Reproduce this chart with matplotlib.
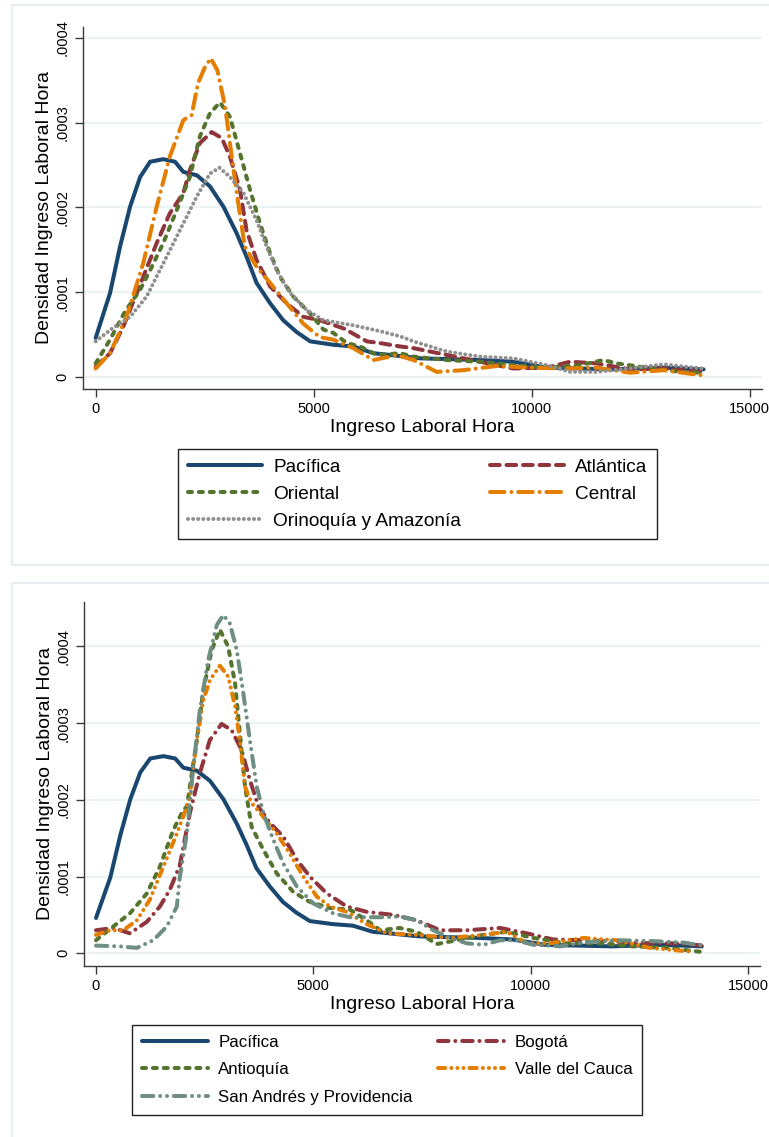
import matplotlib
matplotlib.use('Agg')
import matplotlib.pyplot as plt
from matplotlib.patches import Rectangle

plt.rcParams['font.family'] = ['Liberation Sans', 'DejaVu Sans']

ESCALA = 1e-4  # densidades guardadas en unidades de 0.0001

# ---------------- Panel superior ----------------
pacifica_x = [0, 330, 560, 790, 1020, 1250, 1550, 1820, 2010, 2320, 2620, 2930, 3230, 3460,
              3690, 4000, 4300, 4610, 4920, 5450, 5910, 6370, 6750, 7440, 8810, 9580, 10340,
              11110, 11870, 13020, 13940]
pacifica_y = [0.46, 0.99, 1.54, 2.01, 2.36, 2.54, 2.57, 2.54, 2.42, 2.38, 2.25, 2.01, 1.70, 1.42,
              1.11, 0.87, 0.67, 0.53, 0.42, 0.38, 0.36, 0.28, 0.26, 0.22, 0.20, 0.18, 0.11,
              0.10, 0.09, 0.11, 0.09]

atlantica_x = [0, 330, 630, 1090, 1400, 1700, 2010, 2160, 2390, 2660, 2890, 3080, 3310, 3460,
               3690, 4000, 4380, 4760, 5140, 5700, 6220, 6520, 6980, 7290, 8050, 8810, 9580,
               10340, 10880, 11490, 12250, 13020, 13900]
atlantica_y = [0.12, 0.28, 0.59, 1.18, 1.58, 1.93, 2.17, 2.44, 2.76, 2.89, 2.82, 2.60, 2.21, 1.73,
               1.38, 1.07, 0.87, 0.71, 0.67, 0.57, 0.42, 0.40, 0.36, 0.34, 0.26, 0.18, 0.10,
               0.11, 0.18, 0.16, 0.09, 0.10, 0.06]

oriental_x = [0, 330, 670, 1020, 1250, 1550, 1860, 2160, 2390, 2620, 2850, 3080, 3310, 3540,
              3770, 4000, 4230, 4530, 4920, 5220, 5450, 5760, 6060, 6450, 6980, 7290, 8050,
              8810, 9580, 10340, 11110, 11640, 11950, 12640, 13400, 13900]
oriental_y = [0.16, 0.44, 0.77, 1.03, 1.26, 1.58, 1.97, 2.36, 2.84, 3.11, 3.24, 3.07, 2.64, 2.21,
              1.81, 1.46, 1.18, 0.95, 0.75, 0.56, 0.52, 0.40, 0.36, 0.26, 0.28, 0.24, 0.20,
              0.18, 0.14, 0.11, 0.14, 0.20, 0.16, 0.11, 0.06, 0.05]

central_x = [0, 330, 710, 1090, 1400, 1700, 2010, 2200, 2350, 2510, 2640, 2790, 2970, 3120,
             3270, 3420, 3690, 4000, 4380, 4760, 5140, 5450, 5910, 6370, 6750, 6900, 7290,
             7820, 8430, 9200, 9960, 10730, 11490, 12250, 13020, 13900]
central_y = [0.10, 0.28, 0.71, 1.34, 2.01, 2.60, 3.03, 3.09, 3.47, 3.66, 3.76, 3.62, 3.19, 2.60,
             2.05, 1.54, 1.30, 1.11, 0.87, 0.63, 0.47, 0.44, 0.34, 0.20, 0.24, 0.26, 0.20,
             0.06, 0.08, 0.13, 0.11, 0.10, 0.11, 0.05, 0.08, 0.02]

orinoquia_x = [0, 400, 790, 1170, 1550, 1930, 2320, 2620, 2840, 3080, 3390, 3690, 3920, 4150,
               4460, 4840, 5220, 5450, 5910, 6520, 6980, 7290, 8050, 8810, 9580, 10340, 10880,
               11490, 12250, 13020, 13900]
orinoquia_y = [0.42, 0.58, 0.71, 0.95, 1.34, 1.73, 2.13, 2.40, 2.47, 2.36, 2.17, 1.85, 1.54, 1.26,
               0.99, 0.79, 0.67, 0.65, 0.61, 0.54, 0.48, 0.42, 0.30, 0.24, 0.22, 0.14, 0.06,
               0.06, 0.10, 0.15, 0.10]

# ---------------- Panel inferior ----------------
bogota_x = [0, 400, 780, 1170, 1470, 1700, 1930, 2160, 2390, 2620, 2890, 3120, 3350, 3540,
            3740, 4000, 4310, 4620, 4920, 5310, 5770, 6230, 6840, 7380, 7920, 8530, 9300,
            9910, 10520, 11210, 11980, 12750, 13360, 13970]
bogota_y = [0.30, 0.33, 0.26, 0.41, 0.61, 0.83, 1.15, 1.83, 2.35, 2.78, 2.99, 2.91, 2.65, 2.26,
            1.91, 1.70, 1.52, 1.22, 1.00, 0.78, 0.61, 0.54, 0.50, 0.43, 0.30, 0.30, 0.33,
            0.26, 0.18, 0.17, 0.15, 0.13, 0.13, 0.10]

antioquia_x = [0, 400, 780, 1170, 1470, 1780, 2010, 2090, 2320, 2470, 2660, 2850, 3040, 3200,
               3310, 3430, 3580, 3850, 4160, 4540, 4920, 5380, 5840, 6230, 6540, 6990, 7380,
               7840, 8300, 8910, 9450, 10060, 10830, 11600, 12360, 13130, 13900]
antioquia_y = [0.17, 0.35, 0.52, 0.78, 1.13, 1.61, 1.87, 1.91, 2.78, 3.43, 3.95, 4.22, 4.00, 3.52,
               2.87, 2.17, 1.65, 1.35, 1.04, 0.80, 0.67, 0.59, 0.57, 0.43, 0.30, 0.33, 0.28,
               0.12, 0.17, 0.24, 0.28, 0.20, 0.13, 0.13, 0.09, 0.07, 0.02]

valle_x = [0, 320, 630, 940, 1240, 1550, 1860, 2090, 2160, 2320, 2470, 2620, 2850, 3040, 3200,
           3310, 3430, 3580, 3850, 4160, 4460, 4770, 5080, 5380, 5770, 6230, 6690, 7380, 8150,
           8910, 9450, 9910, 10450, 11210, 11980, 12750, 13510, 13750]
valle_y = [0.24, 0.30, 0.30, 0.43, 0.70, 1.13, 1.56, 1.91, 2.04, 2.78, 3.30, 3.56, 3.75, 3.61, 3.22,
           2.78, 2.17, 1.96, 1.78, 1.56, 1.30, 1.00, 0.74, 0.61, 0.54, 0.38, 0.26, 0.24, 0.20,
           0.24, 0.28, 0.13, 0.13, 0.20, 0.17, 0.07, 0.03, 0.02]

sanandres_x = [0, 550, 940, 1320, 1630, 1860, 1930, 2090, 2240, 2390, 2580, 2780, 2930, 3080,
               3240, 3390, 3540, 3700, 3850, 4080, 4310, 4620, 5000, 5460, 5840, 6230, 6610,
               6990, 7380, 7760, 8150, 8530, 8910, 9300, 9680, 10060, 10680, 11210, 11980,
               12750, 13510, 13970]
sanandres_y = [0.10, 0.09, 0.07, 0.17, 0.35, 0.61, 1.00, 1.56, 2.43, 3.17, 3.82, 4.28, 4.41, 4.30,
               3.95, 3.39, 2.78, 2.17, 1.83, 1.48, 1.17, 0.87, 0.65, 0.52, 0.47, 0.47, 0.47,
               0.48, 0.43, 0.30, 0.20, 0.13, 0.11, 0.17, 0.17, 0.11, 0.09, 0.14, 0.17,
               0.16, 0.14, 0.10]

x_ticks = [0, 5000, 10000, 15000]
y_ticks_sup = [0, 1, 2, 3, 4]
y_ticks_inf = [0, 1, 2, 3, 4]
y_tick_labels = ['0', '.0001', '.0002', '.0003', '.0004']

# colores Stata s2color
NAVY, MAROON, GREEN, ORANGE = '#1a476f', '#90353b', '#55752f', '#e37e00'
GRAY, TEAL = '#8f8f8f', '#6e8e84'
LW = 2.9

# patrones de linea (en multiplos del grosor, extremos redondeados)
DOT = 0.01
P_LARGO = (2.4, 1.7)
P_GUION = (1.0, 1.7)
P_LARGO_PUNTO = (3.6, 1.7, DOT, 1.7)
P_PUNTOS = (DOT, 1.25)
P_RAYA_PUNTO = (2.6, 1.7, DOT, 1.7)
P_RAYA_3PUNTOS = (1.8, 1.5, DOT, 1.5, DOT, 1.5, DOT, 1.5)
P_RAYA_2PUNTOS = (2.8, 1.7, DOT, 1.7, DOT, 1.7)

W, H = 769, 1137


def caja(x0, y0, x1, y1):
    # caja en pixeles (origen arriba a la izquierda) -> fracciones de figura
    return [x0 / W, 1 - y1 / H, (x1 - x0) / W, (y1 - y0) / H]


def curva(ax, x, y, color, label, dashes=None):
    kw = dict(color=color, lw=LW, label=label, solid_capstyle='round', dash_capstyle='round',
              solid_joinstyle='round', dash_joinstyle='round')
    if dashes is not None:
        kw['dashes'] = dashes
    return ax.plot(x, [v * ESCALA for v in y], **kw)[0]


def estilo(ax, xlim, ylim, y_ticks):
    ax.set_xlim(xlim)
    ax.set_ylim(ylim)
    ax.set_xticks(x_ticks)
    ax.set_xticklabels([str(t) for t in x_ticks])
    ax.set_yticks([t * ESCALA for t in y_ticks])
    ax.set_yticklabels(y_tick_labels, rotation=90, va='center')
    for s in ['top', 'right']:
        ax.spines[s].set_visible(False)
    for s in ['left', 'bottom']:
        ax.spines[s].set_color('#3a3a3a')
        ax.spines[s].set_linewidth(1.0)
    ax.tick_params(direction='out', length=5.5, width=1.0, color='#3a3a3a',
                   labelsize=10.5, labelcolor='black', pad=4)
    ax.grid(axis='y', color='#eaf2f3', lw=1.6)
    ax.set_axisbelow(True)
    ax.set_xlabel('Ingreso Laboral Hora', fontsize=14, labelpad=2)
    ax.set_ylabel('Densidad Ingreso Laboral Hora', fontsize=14, labelpad=2)


def leyenda(fig, handles, x, y, fs, spacing, pad):
    leg = fig.legend(handles=handles, loc='upper left', bbox_to_anchor=(x / W, 1 - y / H),
                     bbox_transform=fig.transFigure, ncol=2, fontsize=fs, handlelength=3.9,
                     handletextpad=0.6, columnspacing=1.5, borderpad=pad, labelspacing=spacing,
                     borderaxespad=0, fancybox=False, framealpha=1, edgecolor='#222222')
    leg.get_frame().set_linewidth(1.0)
    return leg


fig = plt.figure(figsize=(W / 100, H / 100), dpi=100)

# marcos de los dos paneles
for (x0, y0, x1, y1) in [(12, 5, 800, 565), (12, 583, 800, 1170)]:
    fig.patches.append(Rectangle((x0 / W, 1 - y1 / H), (x1 - x0) / W, (y1 - y0) / H,
                                 transform=fig.transFigure, fill=False,
                                 edgecolor='#e6eef1', lw=1.5))

# ----- grafico superior -----
ax1 = fig.add_axes(caja(83, 27, 762, 389))
l_pac = curva(ax1, pacifica_x, pacifica_y, NAVY, 'Pacífica')
l_atl = curva(ax1, atlantica_x, atlantica_y, MAROON, 'Atlántica', P_LARGO)
l_ori = curva(ax1, oriental_x, oriental_y, GREEN, 'Oriental', P_GUION)
l_cen = curva(ax1, central_x, central_y, ORANGE, 'Central', P_LARGO_PUNTO)
l_orn = curva(ax1, orinoquia_x, orinoquia_y, GRAY, 'Orinoquía y Amazonía', P_PUNTOS)
estilo(ax1, (-290, 15280), (-0.142 * ESCALA, 4.13 * ESCALA), y_ticks_sup)
leyenda(fig, [l_pac, l_ori, l_orn, l_atl, l_cen], 178, 449, 13.7, 0.5, 0.5)

# ----- grafico inferior -----
ax2 = fig.add_axes(caja(84, 602, 760, 966))
b_pac = curva(ax2, pacifica_x, pacifica_y, NAVY, 'Pacífica')
b_bog = curva(ax2, bogota_x, bogota_y, MAROON, 'Bogotá', P_RAYA_PUNTO)
b_ant = curva(ax2, antioquia_x, antioquia_y, GREEN, 'Antioquía', P_GUION)
b_val = curva(ax2, valle_x, valle_y, ORANGE, 'Valle del Cauca', P_RAYA_3PUNTOS)
b_san = curva(ax2, sanandres_x, sanandres_y, TEAL, 'San Andrés y Providencia', P_RAYA_2PUNTOS)
estilo(ax2, (-276, 15278), (-0.166 * ESCALA, 4.58 * ESCALA), y_ticks_inf)
leyenda(fig, [b_pac, b_ant, b_san, b_bog, b_val], 132, 1025, 12.2, 0.72, 0.6)

fig.savefig('out.png', dpi=100)
